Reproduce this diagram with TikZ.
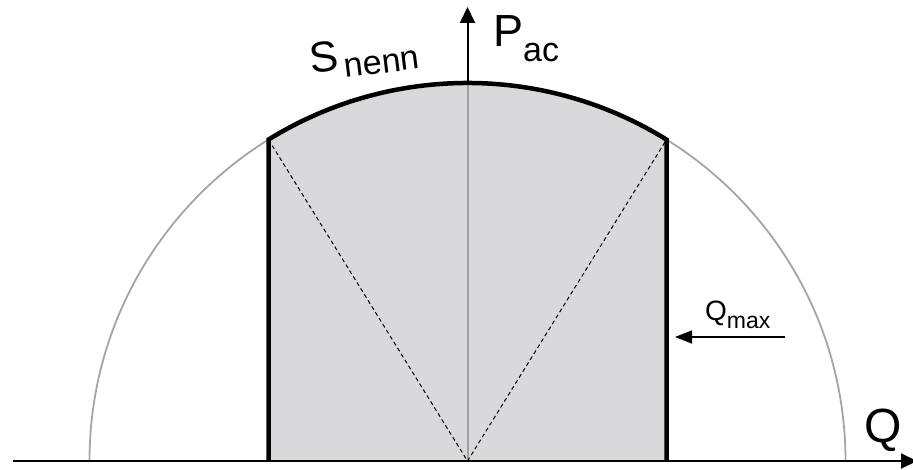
\documentclass[tikz,border=0pt]{standalone}
\usepackage{fontspec}
\setmainfont{Liberation Sans}
\usetikzlibrary{arrows.meta}
\definecolor{fillgray}{RGB}{217,217,219}
\definecolor{circgray}{RGB}{165,165,165}
\definecolor{axgray}{RGB}{160,160,160}
\tikzset{
  thinarc/.style={draw=circgray, line width=1.8pt},
  midline/.style={draw=axgray, line width=2pt},
  dashline/.style={draw=black, line width=1pt, dash pattern=on 4pt off 3pt},
  thickb/.style={draw=black, line width=4.5pt, line join=miter},
  axis/.style={draw=black, line width=2pt, -{Triangle[length=16pt,width=15pt]}},
  qarrow/.style={draw=black, line width=1.5pt, -{Triangle[length=17pt,width=13pt]}},
  lbl/.style={anchor=base west, inner sep=0pt}
}
\begin{document}
\begin{tikzpicture}[x=1pt,y=1pt]
\useasboundingbox (0,0) rectangle (913,469);
\coordinate (O) at (467.5,8);
\coordinate (L) at (268.5,8);
\coordinate (R) at (666.5,8);
\coordinate (LT) at (268.5,329.4);
\coordinate (RT) at (666.5,329.4);
\coordinate (Top) at (467.5,386);
\coordinate (Ptip) at (467.5,462);
\coordinate (Qs) at (13,8);
\coordinate (Qe) at (917,8);
\coordinate (QmS) at (785,132);
\coordinate (QmE) at (675,132);
% shaded region
\fill[fillgray] (L) -- (LT) arc[start angle=121.77,end angle=58.23,radius=378pt] -- (R) -- cycle;
% thin circle
\draw[thinarc] (O) ++(378pt,0) arc[start angle=0,end angle=180,radius=378pt];
% grey vertical
\draw[midline] (O) -- (Top);
% dashed
\draw[dashline] (LT) -- (O) -- (RT);
% thick boundary
\draw[thickb] (L) -- (LT) arc[start angle=121.77,end angle=58.23,radius=378pt] -- (R);
% axes
\draw[axis] (Qs) -- (Qe);
\draw[axis] (Top) -- (Ptip);
% Qmax arrow
\draw[qarrow] (QmS) -- (QmE);
% labels
\node[lbl] (pac) at (493,422) {\fontsize{45pt}{45pt}\selectfont P\raisebox{-15pt}{\fontsize{34pt}{34pt}\selectfont ac}};
\node[lbl, rotate=7] (snenn) at (311,395) {\fontsize{43pt}{43pt}\selectfont S\kern5pt\raisebox{-8pt}{\fontsize{34pt}{34pt}\selectfont nenn}};
\node[lbl] (q) at (864,27) {\fontsize{48pt}{48pt}\selectfont Q};
\node[lbl] (qmax) at (705,149) {\fontsize{28pt}{28pt}\selectfont Q\raisebox{-8pt}{\fontsize{23pt}{23pt}\selectfont max}};
\end{tikzpicture}
\end{document}
